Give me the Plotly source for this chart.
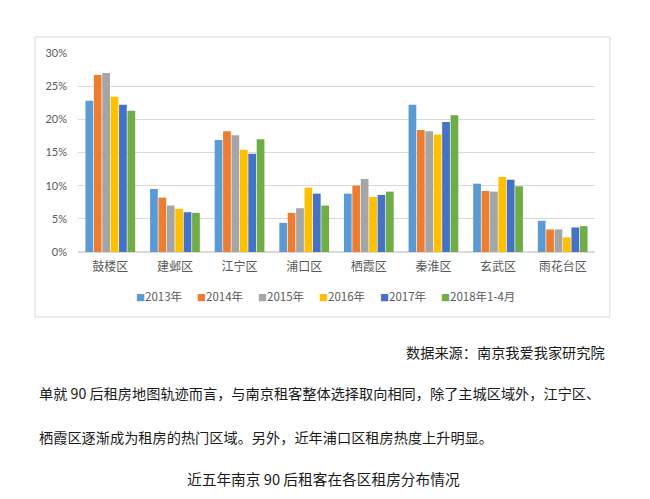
import plotly.graph_objects as go

W, H = 650, 499
OFF = 8  # page body margin of the browser

# districts and yearly share of 90s renters
districts = ['鼓楼区', '建邺区', '江宁区', '浦口区', '栖霞区', '秦淮区', '玄武区', '雨花台区']
years = ['2013年', '2014年', '2015年', '2016年', '2017年', '2018年1-4月']
v2013 = [22.8, 9.5, 16.9, 4.4, 8.8, 22.2, 10.3, 4.7]
v2014 = [26.7, 8.2, 18.2, 5.9, 10.0, 18.4, 9.2, 3.4]
v2015 = [27.0, 7.0, 17.6, 6.6, 11.0, 18.2, 9.1, 3.4]
v2016 = [23.4, 6.5, 15.4, 9.7, 8.3, 17.7, 11.3, 2.2]
v2017 = [22.2, 6.0, 14.8, 8.8, 8.6, 19.6, 10.9, 3.7]
v2018 = [21.3, 5.9, 17.0, 7.0, 9.1, 20.6, 9.9, 3.9]
series = [v2013, v2014, v2015, v2016, v2017, v2018]
colors = ['#5B9BD5', '#ED7D31', '#A5A5A5', '#FFC000', '#4472C4', '#70AD47']

source_text = '数据来源：南京我爱我家研究院'
para1 = '单就 90 后租房地图轨迹而言，与南京租客整体选择取向相同，除了主城区域外，江宁区、'
para2 = '栖霞区逐渐成为租房的热门区域。另外，近年浦口区租房热度上升明显。'
caption = '近五年南京 90 后租客在各区租房分布情况'

cjk = 'Noto Sans CJK SC'

def px(x):
    return (x - OFF) / W

def py_(y):
    return 1 - (y - OFF) / H

fig = go.Figure()
for name, vals, c in zip(years, series, colors):
    fig.add_trace(go.Bar(
        x=districts, y=[v / 100 for v in vals], name=name,
        marker=dict(color=c, line=dict(width=0)),
        showlegend=False,
    ))

fig.update_layout(
    width=W, height=H, autosize=False,
    margin=dict(l=0, r=0, t=0, b=0),
    paper_bgcolor='white', plot_bgcolor='white',
    barmode='group', bargap=0.22, bargroupgap=0.08,
    font=dict(family=cjk, color='#595959'),
    xaxis=dict(
        domain=[px(78), px(595)], automargin=False,
        showline=False, ticks='', tickfont=dict(size=12, color='#595959', family=cjk),
        ticklabelstandoff=6,
    ),
    yaxis=dict(
        domain=[py_(252), py_(53)], automargin=False,
        range=[0, 0.30], dtick=0.05, tickformat='.0%',
        gridcolor='#D9D9D9', gridwidth=1, zeroline=True, zerolinecolor='#D9D9D9',
        showline=False, ticks='', tickfont=dict(size=11, color='#595959', family='Lato'),
        ticklabelstandoff=10,
    ),
)

# chart frame
fig.add_shape(type='rect', xref='paper', yref='paper',
              x0=px(35), x1=px(610), y0=py_(317), y1=py_(37),
              line=dict(color='#D9D9D9', width=1), fillcolor='rgba(0,0,0,0)', layer='below')

# compact excel-style legend: small square + label, fixed step
leg_x0, leg_step, leg_y = 134, 61, 296
for i, (name, c) in enumerate(zip(years, colors)):
    fig.add_annotation(
        text='<span style="font-size:9px;color:%s">■</span>%s' % (c, name),
        xref='paper', yref='paper', x=px(leg_x0 + i * leg_step), y=py_(leg_y),
        xanchor='left', yanchor='middle', showarrow=False,
        font=dict(size=11.5, color='#595959', family=cjk))

txt_font = dict(size=14.2, color='#1a1a1a', family=cjk)
fig.add_annotation(text=source_text, xref='paper', yref='paper', x=px(607), y=py_(352),
                   xanchor='right', yanchor='middle', showarrow=False, font=txt_font)
fig.add_annotation(text=para1, xref='paper', yref='paper', x=px(37), y=py_(393),
                   xanchor='left', yanchor='middle', showarrow=False, font=txt_font)
fig.add_annotation(text=para2, xref='paper', yref='paper', x=px(37), y=py_(437),
                   xanchor='left', yanchor='middle', showarrow=False, font=txt_font)
fig.add_annotation(text=caption, xref='paper', yref='paper', x=px(323), y=py_(478),
                   xanchor='center', yanchor='middle', showarrow=False,
                   font=dict(size=14.7, color='#1a1a1a', family=cjk))

fig.write_html("out.html")
